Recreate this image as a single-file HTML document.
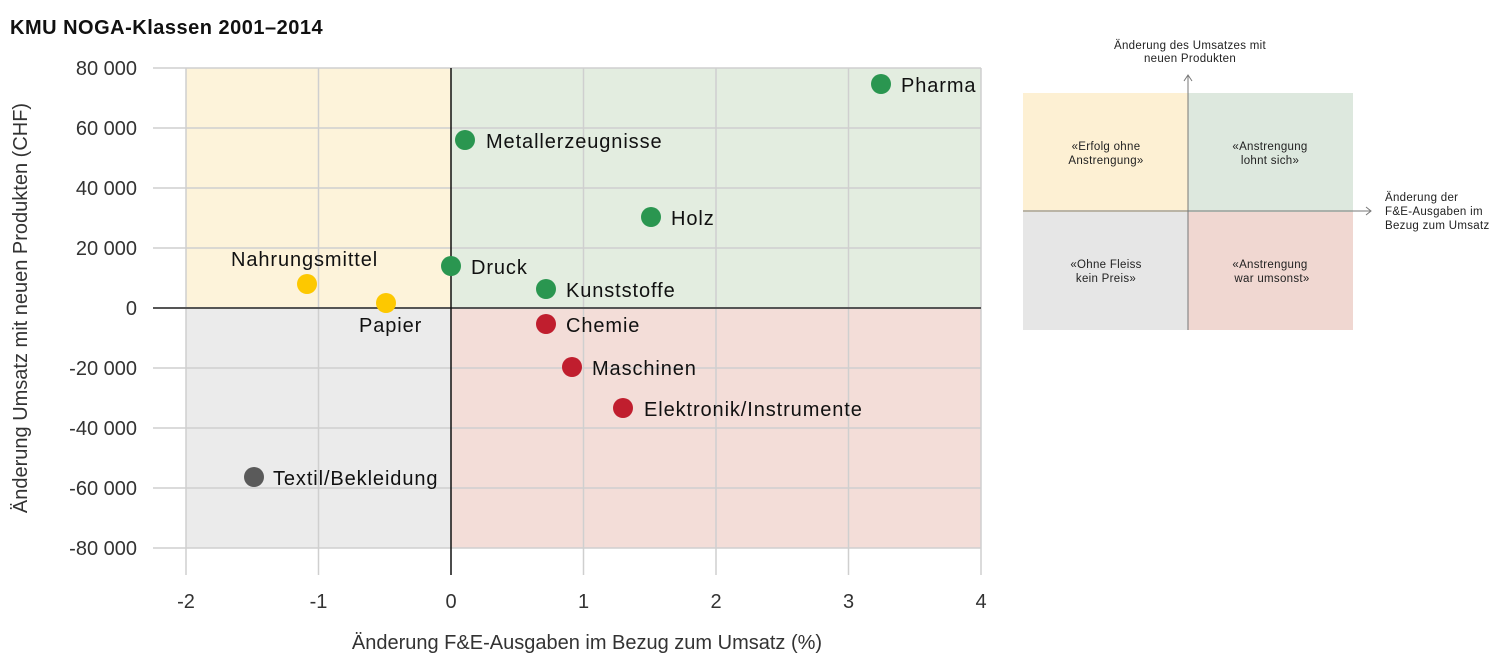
<!DOCTYPE html>
<html><head><meta charset="utf-8"><style>
body{margin:0;background:#fff;}
svg{display:block;font-family:"Liberation Sans",sans-serif;}
</style></head><body>
<svg width="1500" height="658" viewBox="0 0 1500 658" xmlns="http://www.w3.org/2000/svg">
<text x="10" y="34" font-size="20" font-weight="bold" fill="#111" letter-spacing="0.5">KMU NOGA-Klassen 2001–2014</text>
<rect x="186" y="68" width="265" height="240" fill="#fdf3da"/>
<rect x="451" y="68" width="530" height="240" fill="#e3ede0"/>
<rect x="186" y="308" width="265" height="240" fill="#ebebeb"/>
<rect x="451" y="308" width="530" height="240" fill="#f3ddd8"/>
<g stroke="#cfcfcf" stroke-width="1.5">
<line x1="153" y1="68" x2="981" y2="68"/>
<line x1="153" y1="128" x2="981" y2="128"/>
<line x1="153" y1="188" x2="981" y2="188"/>
<line x1="153" y1="248" x2="981" y2="248"/>
<line x1="153" y1="368" x2="981" y2="368"/>
<line x1="153" y1="428" x2="981" y2="428"/>
<line x1="153" y1="488" x2="981" y2="488"/>
<line x1="153" y1="548" x2="981" y2="548"/>
<line x1="186" y1="68" x2="186" y2="575"/>
<line x1="318.5" y1="68" x2="318.5" y2="575"/>
<line x1="583.5" y1="68" x2="583.5" y2="575"/>
<line x1="716" y1="68" x2="716" y2="575"/>
<line x1="848.5" y1="68" x2="848.5" y2="575"/>
<line x1="981" y1="68" x2="981" y2="575"/>
</g>
<line x1="153" y1="308" x2="981" y2="308" stroke="#555" stroke-width="2"/>
<line x1="451" y1="68" x2="451" y2="575" stroke="#111" stroke-width="1.5"/>
<g font-size="20" fill="#333" text-anchor="end">
<text x="137" y="75">80 000</text>
<text x="137" y="135">60 000</text>
<text x="137" y="195">40 000</text>
<text x="137" y="255">20 000</text>
<text x="137" y="315">0</text>
<text x="137" y="375">-20 000</text>
<text x="137" y="435">-40 000</text>
<text x="137" y="495">-60 000</text>
<text x="137" y="555">-80 000</text>
</g>
<g font-size="20" fill="#333" text-anchor="middle">
<text x="186" y="608">-2</text>
<text x="318.5" y="608">-1</text>
<text x="451" y="608">0</text>
<text x="583.5" y="608">1</text>
<text x="716" y="608">2</text>
<text x="848.5" y="608">3</text>
<text x="981" y="608">4</text>
<text x="587" y="649">Änderung F&amp;E-Ausgaben im Bezug zum Umsatz (%)</text>
<text transform="translate(27,308) rotate(-90)">Änderung Umsatz mit neuen Produkten (CHF)</text>
</g>
<g>
<circle cx="881" cy="84" r="10" fill="#2a9650"/>
<circle cx="465" cy="140" r="10" fill="#2a9650"/>
<circle cx="651" cy="217" r="10" fill="#2a9650"/>
<circle cx="451" cy="266" r="10" fill="#2a9650"/>
<circle cx="546" cy="289" r="10" fill="#2a9650"/>
<circle cx="307" cy="284" r="10" fill="#fdc800"/>
<circle cx="386" cy="303" r="10" fill="#fdc800"/>
<circle cx="546" cy="324" r="10" fill="#c01e2e"/>
<circle cx="572" cy="367" r="10" fill="#c01e2e"/>
<circle cx="623" cy="408" r="10" fill="#c01e2e"/>
<circle cx="254" cy="477" r="10" fill="#5a5a5a"/>
</g>
<g font-size="20" fill="#111" letter-spacing="0.9">
<text x="901" y="92">Pharma</text>
<text x="486" y="148">Metallerzeugnisse</text>
<text x="671" y="225">Holz</text>
<text x="471" y="274">Druck</text>
<text x="566" y="297">Kunststoffe</text>
<text x="231" y="266">Nahrungsmittel</text>
<text x="359" y="332">Papier</text>
<text x="566" y="332">Chemie</text>
<text x="592" y="375">Maschinen</text>
<text x="644" y="416">Elektronik/Instrumente</text>
<text x="273" y="485">Textil/Bekleidung</text>
</g>
<rect x="1023" y="93" width="165" height="119" fill="#fdf0d3"/>
<rect x="1188" y="93" width="165" height="119" fill="#dde8de"/>
<rect x="1023" y="212" width="165" height="118" fill="#e6e6e6"/>
<rect x="1188" y="212" width="165" height="118" fill="#f0d7d1"/>
<line x1="1188" y1="75" x2="1188" y2="330" stroke="#777" stroke-width="1"/>
<polyline points="1184,81 1188,75 1192,81" fill="none" stroke="#777" stroke-width="1"/>
<line x1="1023" y1="211" x2="1371" y2="211" stroke="#777" stroke-width="1"/>
<polyline points="1366,207 1371,211 1366,215" fill="none" stroke="#777" stroke-width="1"/>
<g font-size="11.5" fill="#222" text-anchor="middle" letter-spacing="0.3">
<text x="1190" y="49">Änderung des Umsatzes mit</text>
<text x="1190" y="62">neuen Produkten</text>
<text x="1106" y="150">«Erfolg ohne</text>
<text x="1106" y="164">Anstrengung»</text>
<text x="1270" y="150">«Anstrengung</text>
<text x="1270" y="164">lohnt sich»</text>
<text x="1106" y="268">«Ohne Fleiss</text>
<text x="1106" y="282">kein Preis»</text>
<text x="1270" y="268">«Anstrengung</text>
<text x="1272" y="282">war umsonst»</text>
</g>
<g font-size="11.5" fill="#222" letter-spacing="0.3">
<text x="1385" y="201">Änderung der</text>
<text x="1385" y="215">F&amp;E-Ausgaben im</text>
<text x="1385" y="229">Bezug zum Umsatz</text>
</g>
</svg>
</body></html>
